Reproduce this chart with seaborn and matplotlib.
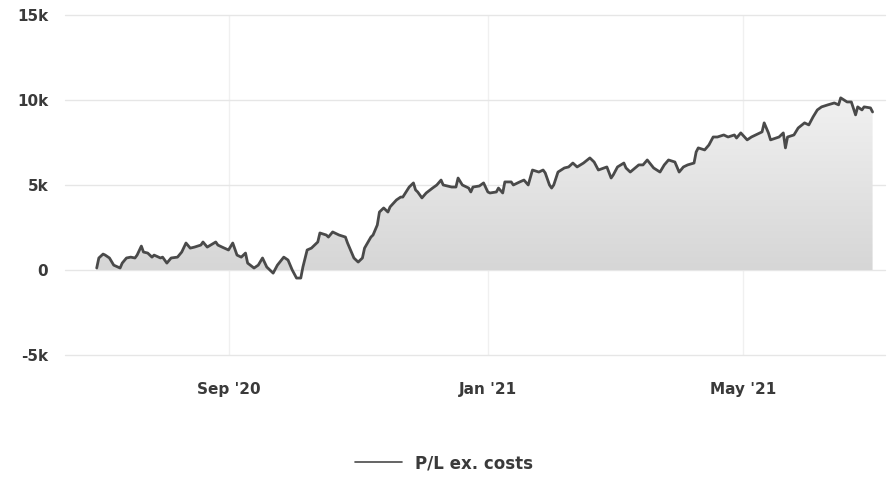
import numpy as np
import pandas as pd
import matplotlib
matplotlib.use('Agg')
import matplotlib.pyplot as plt
import matplotlib.dates as mdates
from matplotlib.colors import LinearSegmentedColormap
import seaborn as sns

# P/L ex. costs
dates = [
    '2020-07-01', '2020-07-02', '2020-07-04', '2020-07-05', '2020-07-07', '2020-07-09',
    '2020-07-12', '2020-07-13', '2020-07-15', '2020-07-17', '2020-07-19', '2020-07-20',
    '2020-07-22', '2020-07-23', '2020-07-25', '2020-07-27', '2020-07-28', '2020-07-31',
    '2020-08-01', '2020-08-03', '2020-08-05', '2020-08-08', '2020-08-10', '2020-08-12',
    '2020-08-14', '2020-08-16', '2020-08-19', '2020-08-20', '2020-08-22', '2020-08-26',
    '2020-08-27', '2020-08-29', '2020-09-01', '2020-09-03', '2020-09-05', '2020-09-07',
    '2020-09-09', '2020-09-10', '2020-09-13', '2020-09-15', '2020-09-17', '2020-09-19',
    '2020-09-22', '2020-09-24', '2020-09-27', '2020-09-29', '2020-10-01', '2020-10-03',
    '2020-10-05', '2020-10-06', '2020-10-08', '2020-10-10', '2020-10-13', '2020-10-14',
    '2020-10-17', '2020-10-18', '2020-10-20', '2020-10-23', '2020-10-26', '2020-10-27',
    '2020-10-30', '2020-11-01', '2020-11-03', '2020-11-04', '2020-11-07', '2020-11-08',
    '2020-11-10', '2020-11-11', '2020-11-13', '2020-11-15', '2020-11-16', '2020-11-19',
    '2020-11-21', '2020-11-22', '2020-11-25', '2020-11-27', '2020-11-28', '2020-11-29',
    '2020-12-01', '2020-12-03', '2020-12-06', '2020-12-08', '2020-12-10', '2020-12-11',
    '2020-12-15', '2020-12-17', '2020-12-18', '2020-12-20', '2020-12-23', '2020-12-24',
    '2020-12-25', '2020-12-28', '2020-12-30', '2021-01-01', '2021-01-02', '2021-01-05',
    '2021-01-06', '2021-01-08', '2021-01-09', '2021-01-12', '2021-01-13', '2021-01-16',
    '2021-01-18', '2021-01-20', '2021-01-22', '2021-01-25', '2021-01-27', '2021-01-28',
    '2021-01-30', '2021-01-31', '2021-02-01', '2021-02-03', '2021-02-06', '2021-02-08',
    '2021-02-10', '2021-02-12', '2021-02-15', '2021-02-18', '2021-02-20', '2021-02-22',
    '2021-02-26', '2021-02-28', '2021-03-01', '2021-03-03', '2021-03-06', '2021-03-07',
    '2021-03-09', '2021-03-13', '2021-03-15', '2021-03-17', '2021-03-20', '2021-03-23',
    '2021-03-25', '2021-03-27', '2021-03-30', '2021-04-01', '2021-04-03', '2021-04-05',
    '2021-04-08', '2021-04-09', '2021-04-10', '2021-04-13', '2021-04-15', '2021-04-17',
    '2021-04-19', '2021-04-22', '2021-04-24', '2021-04-27', '2021-04-28', '2021-04-30',
    '2021-05-03', '2021-05-05', '2021-05-07', '2021-05-10', '2021-05-11', '2021-05-13',
    '2021-05-14', '2021-05-18', '2021-05-20', '2021-05-21', '2021-05-22', '2021-05-25',
    '2021-05-27', '2021-05-30', '2021-06-01', '2021-06-03', '2021-06-05', '2021-06-07',
    '2021-06-10', '2021-06-13', '2021-06-15', '2021-06-16', '2021-06-19', '2021-06-21',
    '2021-06-23', '2021-06-24', '2021-06-26', '2021-06-27', '2021-06-30', '2021-07-01',
]
pl_values = [
    120, 710, 940, 880, 710, 290,
    120, 410, 710, 760, 710, 880,
    1410, 1060, 1000, 760, 880, 710,
    760, 410, 710, 760, 1060, 1590,
    1290, 1350, 1470, 1650, 1350, 1650,
    1470, 1350, 1180, 1590, 880, 760,
    1000, 410, 120, 290, 710, 180,
    -180, 290, 760, 590, 0, -470,
    -470, 180, 1180, 1290, 1650, 2180,
    2060, 1940, 2240, 2060, 1940, 1590,
    710, 470, 710, 1290, 1940, 2060,
    2650, 3410, 3650, 3410, 3710, 4120,
    4290, 4290, 4880, 5120, 4710, 4590,
    4240, 4530, 4820, 5000, 5290, 5000,
    4880, 4880, 5410, 5000, 4820, 4590,
    4880, 4940, 5120, 4590, 4530, 4590,
    4820, 4530, 5180, 5180, 5000, 5180,
    5290, 5000, 5880, 5760, 5880, 5710,
    5000, 4820, 5000, 5760, 6000, 6060,
    6290, 6060, 6290, 6590, 6350, 5880,
    6060, 5410, 5590, 6060, 6290, 6000,
    5760, 6180, 6180, 6470, 6000, 5760,
    6180, 6470, 6350, 5760, 6060, 6180,
    6290, 6940, 7180, 7060, 7350, 7820,
    7820, 7940, 7820, 7940, 7760, 8060,
    7650, 7820, 7940, 8120, 8650, 8060,
    7650, 7820, 8060, 7180, 7820, 7940,
    8350, 8650, 8530, 9000, 9410, 9590,
    9710, 9820, 9710, 10120, 9880, 9880,
    9120, 9590, 9410, 9590, 9530, 9290,
]
tick_dates = ['2020-09-01', '2021-01-01', '2021-05-01']
y_ticks = [-5000, 0, 5000, 10000, 15000]
y_tick_labels = ['-5k', '0', '5k', '10k', '15k']
series_name = 'P/L ex. costs'

df = pd.DataFrame({'date': pd.to_datetime(dates), 'pl': pl_values})

sns.set_style('white')
plt.rcParams['font.family'] = ['DejaVu Sans']
text_color = '#3a3a3a'
line_color = '#4a4a4a'

fig = plt.figure(figsize=(8.88, 4.78), dpi=100)
ax = fig.add_axes([0.073, 0.257, 0.924, 0.712])

x_min = pd.Timestamp('2020-06-16')
x_max = pd.Timestamp('2021-07-07')
y_min, y_max = -5000, 15000

# gradient-filled area under the line, down to zero
poly = ax.fill_between(df['date'], df['pl'], 0, color='none', lw=0)
cmap = LinearSegmentedColormap.from_list('fill', ['#d6d6d6', '#f2f2f2'])
grad = np.linspace(0, 1, 256).reshape(-1, 1)
im = ax.imshow(grad, cmap=cmap, aspect='auto', origin='lower',
               extent=[mdates.date2num(x_min), mdates.date2num(x_max), 0, 10500],
               zorder=1)
im.set_clip_path(poly.get_paths()[0], transform=ax.transData)

sns.lineplot(data=df, x='date', y='pl', ax=ax, color=line_color, linewidth=2.0,
             label=series_name, zorder=3)

ax.set_xlim(x_min, x_max)
ax.set_ylim(y_min, y_max)
ax.set_aspect('auto')

ax.set_yticks(y_ticks)
ax.set_yticklabels(y_tick_labels)
ax.set_xticks(pd.to_datetime(tick_dates))
ax.xaxis.set_major_formatter(mdates.DateFormatter("%b '%y"))

for sp in ax.spines.values():
    sp.set_visible(False)
ax.yaxis.grid(True, color='#e6e6e6', linewidth=1.0)
ax.xaxis.grid(True, color='#f0f0f0', linewidth=1.0)
ax.set_axisbelow(True)
for gl in ax.get_ygridlines():
    gl.set_clip_on(False)
ax.tick_params(axis='both', length=0, labelsize=11, colors=text_color)
ax.tick_params(axis='y', pad=12)
ax.tick_params(axis='x', pad=19)
for lbl in ax.get_xticklabels() + ax.get_yticklabels():
    lbl.set_fontweight('bold')
ax.set_xlabel('')
ax.set_ylabel('')

ax.get_legend().remove()
handles, labels = ax.get_legend_handles_labels()
leg = fig.legend(handles, labels, loc='center', bbox_to_anchor=(0.5, 0.031),
                 frameon=False, handlelength=2.8, handletextpad=0.8,
                 prop={'weight': 'bold', 'size': 12})
for t in leg.get_texts():
    t.set_color(text_color)
for h in leg.get_lines():
    h.set_linewidth(1.2)

fig.savefig('out.png', dpi=100)
